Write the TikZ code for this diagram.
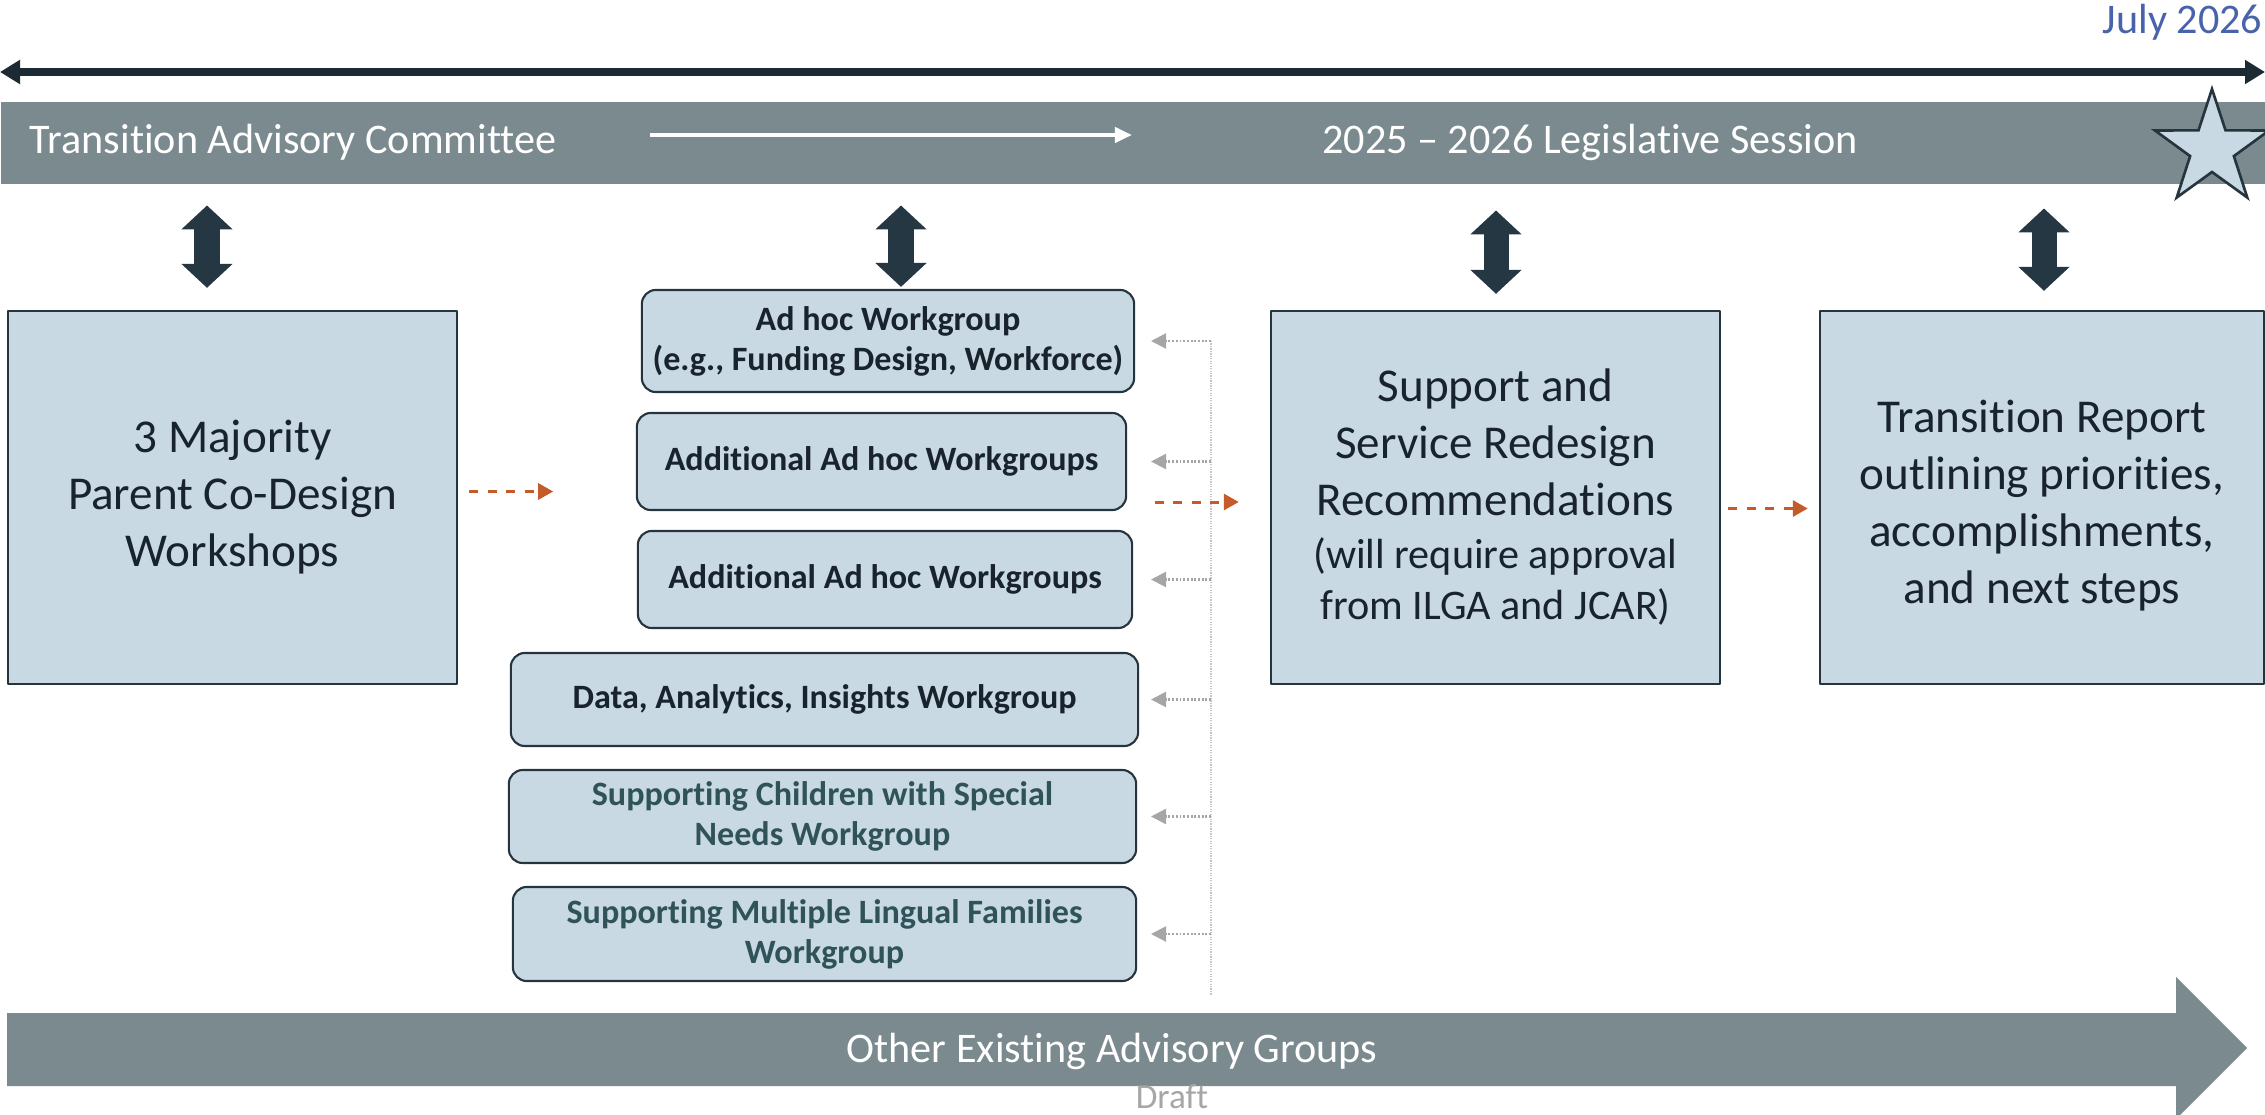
\documentclass[tikz,border=0pt]{standalone}
\usepackage{fontspec}
\setmainfont{Carlito}[Ligatures={TeX,NoCommon}]
\usetikzlibrary{arrows.meta,calc}

\definecolor{bandgray}{RGB}{123,138,142}
\definecolor{boxfill}{RGB}{200,217,227}
\definecolor{boxline}{RGB}{38,52,62}
\definecolor{inkdark}{RGB}{24,35,46}
\definecolor{inkteal}{RGB}{47,83,89}
\definecolor{arrowdark}{RGB}{36,55,67}
\definecolor{lineblack}{RGB}{27,42,51}
\definecolor{julyblue}{RGB}{72,99,170}
\definecolor{flowred}{RGB}{197,90,42}
\definecolor{fbgray}{RGB}{166,166,166}

\newcommand{\smallfnt}{\fontsize{12}{14.8}\selectfont}

\tikzset{
  bigbox/.style={draw=boxline, fill=boxfill, line width=0.6pt, inner sep=0pt,
    align=center, text=inkdark, font=\fontsize{13.4}{16.2}\selectfont,
    minimum width=4.49cm, minimum height=3.73cm},
  wgbox/.style={draw=boxline, fill=boxfill, line width=0.6pt, rounded corners=0.14cm,
    inner sep=0pt, align=center, text=inkdark,
    font=\bfseries\fontsize{9.7}{11.4}\selectfont},
  bandtext/.style={text=white, inner sep=0pt, font=\fontsize{12}{14.4}\selectfont},
  dbl/.style={arrowdark, line width=0.25cm,
    {Triangle[length=0.24cm,width=0.5cm]}-{Triangle[length=0.24cm,width=0.5cm]}},
  flow/.style={flowred, line width=0.03cm, dash pattern=on 0.09cm off 0.095cm,
    -{Triangle[length=0.15cm,width=0.16cm]}},
  fbk/.style={fbgray, line width=0.6pt, dash pattern=on 0.55pt off 0.5pt,
    -{Triangle[length=0.15cm,width=0.15cm]}},
}

\begin{document}
\begin{tikzpicture}[x=0.01cm, y=-0.01cm, line join=round]
  \useasboundingbox (0,0) rectangle (2265,1115);

  % Timeline
  \coordinate (tlL) at (0,72);
  \coordinate (tlR) at (2265,72);
  \draw[lineblack, line width=0.08cm,
    {Triangle[length=0.2cm,width=0.23cm]}-{Triangle[length=0.2cm,width=0.23cm]}] (tlL) -- (tlR);
  \node[anchor=base east, inner sep=0pt, text=julyblue, font=\fontsize{12}{14.4}\selectfont]
    (july) at (2263,33) {July 2026};

  % Committee band
  \node[fill=bandgray, minimum width=22.65cm, minimum height=0.82cm, inner sep=0pt,
    anchor=north west] (tac) at (0,101) {};
  \node[bandtext, anchor=base west] (tactext) at (29,153) {Transition Advisory Committee};
  \node[bandtext, anchor=base] (session) at (1590,153) {2025 -- 2026 Legislative Session};
  \coordinate (sesA) at (650,135);
  \coordinate (sesB) at (1132,135);
  \draw[white, line width=0.04cm, -{Triangle[length=0.17cm,width=0.15cm]}] (sesA) -- (sesB);

  % Star
  \begin{scope}[shift={(2212,149)}]
    \draw[boxline, fill=boxfill, line width=0.75pt, line join=miter] (-90:60)
      \foreach \k in {1,...,9} { -- ({-90+36*\k}:{mod(\k,2)==0 ? 60 : 23}) } -- cycle;
  \end{scope}

  % Main boxes
  \node[bigbox] (wksp) at (232.5,497.5) {3 Majority\\Parent Co-Design\\Workshops};
  \node[bigbox] (support) at (1495.5,497.5) {Support and\\Service Redesign\\Recommendations\\[-1.1pt]
    {\smallfnt (will require approval}\\[-1.7pt]{\smallfnt from ILGA and JCAR)}};
  \node[bigbox, minimum width=4.44cm, text height=2.2cm] (report) at (2042,497.5)
    {Transition Report\\outlining priorities,\\accomplishments,\\and next steps};

  % Workgroups
  \node[wgbox, minimum width=4.92cm, minimum height=1.02cm] (adhoc) at (888,341)
    {Ad hoc Workgroup\\(e.g., Funding Design, Workforce)};
  \node[wgbox, minimum width=4.89cm, minimum height=0.97cm] (addla) at (881.5,461.5)
    {Additional Ad hoc Workgroups};
  \node[wgbox, minimum width=4.94cm, minimum height=0.97cm] (addlb) at (885,579.5)
    {Additional Ad hoc Workgroups};
  \node[wgbox, minimum width=6.27cm, minimum height=0.93cm] (data) at (824.5,699.5)
    {Data, Analytics, Insights Workgroup};
  \node[wgbox, text=inkteal, minimum width=6.27cm, minimum height=0.93cm] (special) at (822.5,816.5)
    {Supporting Children with Special\\Needs Workgroup};
  \node[wgbox, text=inkteal, minimum width=6.23cm, minimum height=0.94cm] (lingual) at (824.5,934)
    {Supporting Multiple Lingual Families\\Workgroup};

  % Links to the committee
  \foreach \b/\dx/\ta/\tb in {wksp/-25.5/0.21cm/0.22cm, adhoc/13/0.21cm/0.02cm,
                              support/0.5/0.26cm/0.16cm, report/2/0.24cm/0.19cm}
    \draw[dbl, shorten <=\ta, shorten >=\tb] ($(\b.north |- tac.south)+(\dx,0)$) -- ($(\b.north)+(\dx,0)$);

  % Feedback into the workgroups
  \coordinate (vtop) at (1211,341);
  \coordinate (vbot) at (1211,995);
  \coordinate (fbtip) at (1151,0);
  \draw[fbgray!65, line width=0.35pt, dash pattern=on 0.35pt off 0.35pt] (vtop) -- (vbot);
  \foreach \w in {adhoc,addla,addlb,data,special,lingual}
    \draw[fbk] (\w.east -| vtop) -- (\w.east -| fbtip);

  % Flow
  \draw[flow] ([xshift=0.11cm,yshift=0.06cm]wksp.east) -- +(84,0);
  \draw[flow] ([xshift=-1.15cm,yshift=-0.045cm]support.west) -- ([xshift=-0.31cm,yshift=-0.045cm]support.west);
  \draw[flow] ([xshift=0.07cm,yshift=-0.11cm]support.east) -- ([xshift=-0.11cm,yshift=-0.11cm]report.west);

  % Other groups
  \fill[bandgray] (7,1013) -- (2176,1013) -- (2176,977) -- (2247,1048) -- (2176,1119)
    -- (2176,1086) -- (7,1086) -- cycle;
  \node[bandtext, anchor=base] (others) at (1112,1062) {Other Existing Advisory Groups};
  \node[anchor=base, inner sep=0pt, text=fbgray, font=\fontsize{10}{12}\selectfont]
    (draft) at (1172,1108) {Draft};
\end{tikzpicture}
\end{document}
